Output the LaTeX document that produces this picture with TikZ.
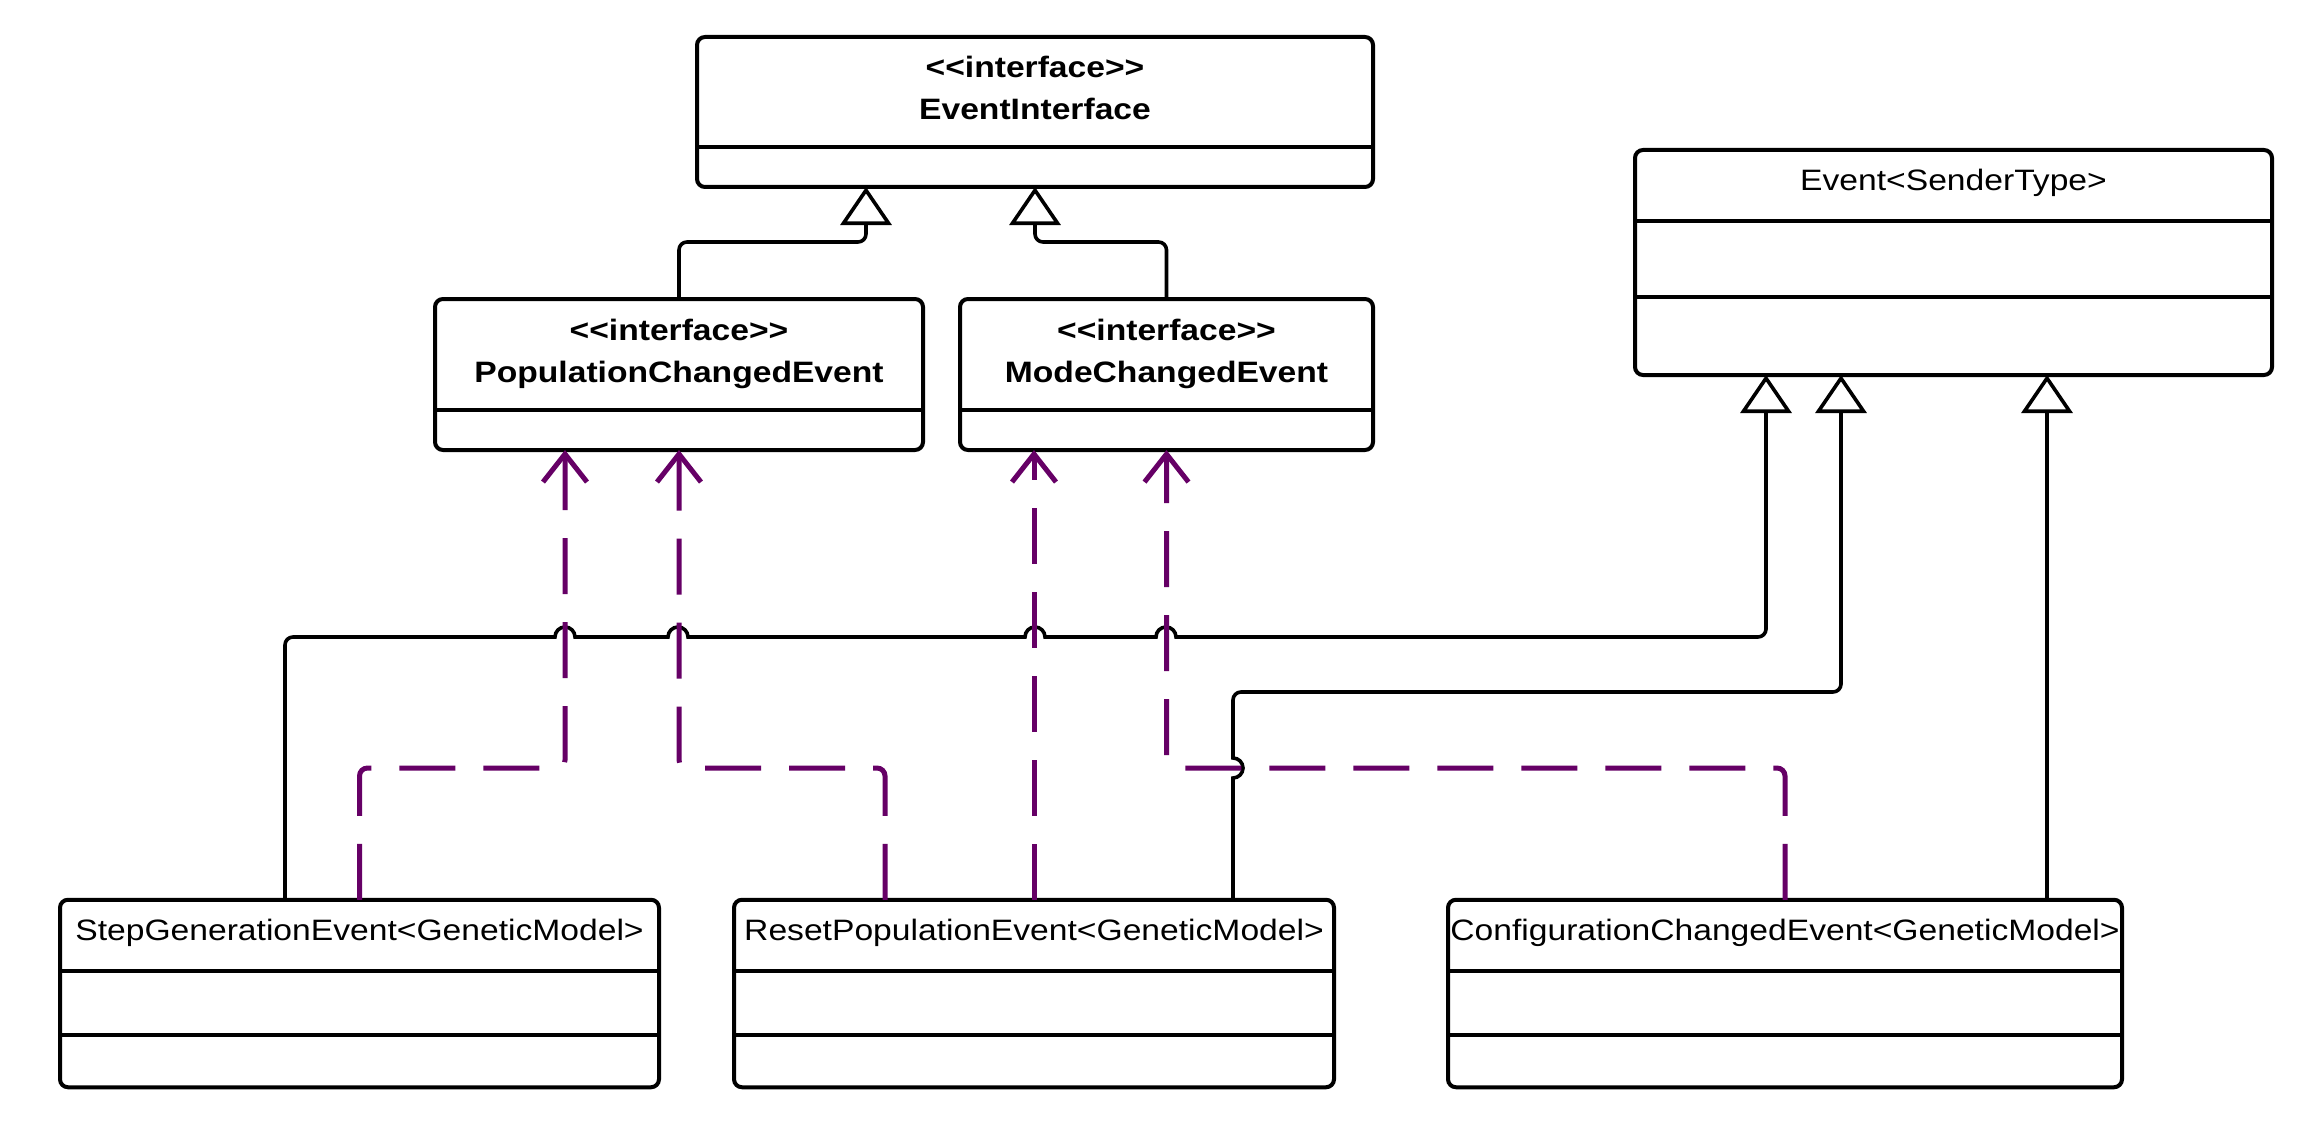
\documentclass[tikz,border=0pt]{standalone}
\usepackage{fontspec}
\setmainfont{Liberation Sans}[FakeStretch=1.14]
\usetikzlibrary{arrows.meta,calc}
\definecolor{umlpurple}{RGB}{102,0,102}
\begin{document}
\begin{tikzpicture}[x=1pt,y=1pt,
  cls/.style={draw=black, line width=4pt, rounded corners=8pt, inner sep=0pt, outer sep=0pt, fill=white},
  divline/.style={line width=4pt},
  lbl/.style={anchor=base, inner sep=0pt, font=\fontsize{29.5pt}{35pt}\selectfont},
  blbl/.style={anchor=base, inner sep=0pt, font=\fontsize{29.5pt}{35pt}\selectfont\bfseries},
  genline/.style={line width=3.6pt, -{Triangle[open, length=38pt, width=51pt]}},
  realline/.style={draw=umlpurple, line width=5pt, dash pattern=on 56pt off 28pt, -{Straight Barb[length=28pt, width=44pt]}},
]
\useasboundingbox (0,0) rectangle (2312,-1134);
\fill[white] (0,0) rectangle (2312,-1134);

% ---------- class boxes ----------
\node[cls, minimum width=676pt, minimum height=150pt] (ei) at (1035,-112) {};
\draw[divline] ($(ei.north west)+(0,-110)$) -- ($(ei.north east)+(0,-110)$);
\node[blbl] (eis) at (1035,-78) {<{}<interface>{}>};
\node[blbl] (ein) at (1035,-120) {EventInterface};

\node[cls, minimum width=488pt, minimum height=151pt] (pce) at (679,-374.5) {};
\draw[divline] ($(pce.north west)+(0,-111)$) -- ($(pce.north east)+(0,-111)$);
\node[blbl] (pces) at (679,-340) {<{}<interface>{}>};
\node[blbl] (pcen) at (679,-382) {PopulationChangedEvent};

\node[cls, minimum width=413pt, minimum height=151pt] (mce) at (1166.5,-374.5) {};
\draw[divline] ($(mce.north west)+(0,-111)$) -- ($(mce.north east)+(0,-111)$);
\node[blbl] (mces) at (1166.5,-340) {<{}<interface>{}>};
\node[blbl] (mcen) at (1166.5,-382) {ModeChangedEvent};

\node[cls, minimum width=637pt, minimum height=225pt] (evt) at (1953.5,-262.5) {};
\draw[divline] ($(evt.north west)+(0,-71)$) -- ($(evt.north east)+(0,-71)$);
\draw[divline] ($(evt.north west)+(0,-147)$) -- ($(evt.north east)+(0,-147)$);
\node[lbl] (evtn) at (1953.5,-191) {Event<SenderType>};

\node[cls, minimum width=599pt, minimum height=187.5pt] (sge) at (359.5,-993.5) {};
\draw[divline] ($(sge.north west)+(0,-71)$) -- ($(sge.north east)+(0,-71)$);
\draw[divline] ($(sge.north west)+(0,-135)$) -- ($(sge.north east)+(0,-135)$);
\node[lbl] (sgen) at (359.5,-940) {StepGenerationEvent<GeneticModel>};

\node[cls, minimum width=600pt, minimum height=187.5pt] (rpe) at (1034,-993.5) {};
\draw[divline] ($(rpe.north west)+(0,-71)$) -- ($(rpe.north east)+(0,-71)$);
\draw[divline] ($(rpe.north west)+(0,-135)$) -- ($(rpe.north east)+(0,-135)$);
\node[lbl] (rpen) at (1034,-940) {ResetPopulationEvent<GeneticModel>};

\node[cls, minimum width=674pt, minimum height=187.5pt] (cce) at (1785,-993.5) {};
\draw[divline] ($(cce.north west)+(0,-71)$) -- ($(cce.north east)+(0,-71)$);
\draw[divline] ($(cce.north west)+(0,-135)$) -- ($(cce.north east)+(0,-135)$);
\node[lbl] (ccen) at (1785,-940) {ConfigurationChangedEvent<GeneticModel>};

% ---------- generalizations ----------
\draw[genline, rounded corners=8pt] (pce.north) |- ($(ei.south)+(-169,-55)$) -- ([xshift=-169pt]ei.south);
\draw[genline, rounded corners=8pt] (mce.north) |- ($(ei.south)+(0,-55)$) -- (ei.south);

\draw[genline] ([xshift=-74.5pt]sge.north) [rounded corners=8pt] -- (285,-637) -- (545,-637)
  [sharp corners] -- (555,-637) arc(180:0:10) -- (668,-637) arc(180:0:10)
  -- (1025,-637) arc(180:0:10) -- (1156,-637) arc(180:0:10) -- (1186,-637) -- (1196,-637)
  [rounded corners=8pt] -- (1766,-637) -- ([xshift=-187.5pt]evt.south);

\draw[genline] ([xshift=199pt]rpe.north) -- (1233,-778) arc(-90:90:10) -- (1233,-748)
  [rounded corners=8pt] -- (1233,-692) -- (1841,-692) -- ([xshift=-112.5pt]evt.south);

\draw[genline] ([xshift=262pt]cce.north) -- ([xshift=93.5pt]evt.south);

% ---------- realizations ----------
\draw[realline, rounded corners=8pt] (sge.north) |- ($(pce.south)+(-114,-318)$) -- ([xshift=-114pt]pce.south);
\draw[realline, rounded corners=8pt] ([xshift=-149pt]rpe.north) |- ($(pce.south)+(0,-318)$) -- (pce.south);
\draw[realline] (rpe.north) -- (rpe.north |- mce.south);
\draw[realline, rounded corners=8pt] (cce.north) |- ($(mce.south)+(0,-318)$) -- (mce.south);
\end{tikzpicture}
\end{document}
